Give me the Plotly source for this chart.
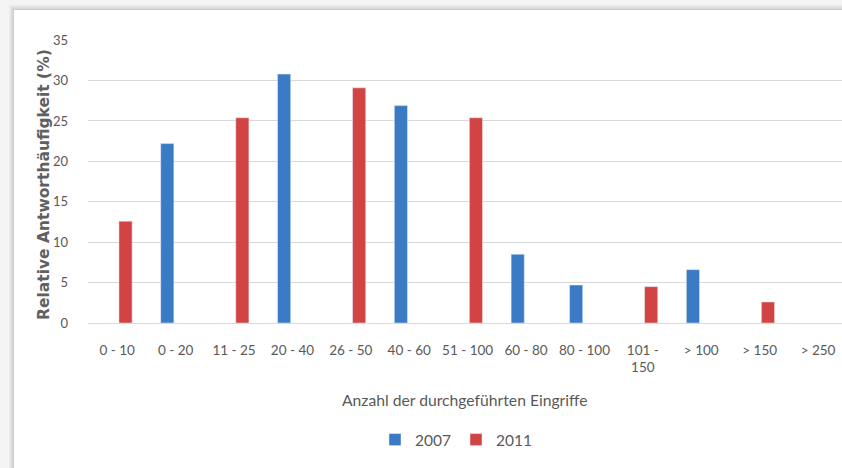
import plotly.graph_objects as go

categories = ["0 - 10", "0 - 20", "11 - 25", "20 - 40", "26 - 50", "40 - 60", "51 - 100",
              "60 - 80", "80 - 100", "101 -<br>150", "> 100", "> 150", "> 250"]
values_2007 = [None, 22.2, None, 30.8, None, 26.9, None, 8.5, 4.7, None, 6.6, None, None]
values_2011 = [12.6, None, 25.4, None, 29.1, None, 25.4, None, None, 4.5, None, 2.6, None]
y_ticks = [0, 5, 10, 15, 20, 25, 30, 35]

FONT = "Lato"
TXT = "#595959"

W, H = 842, 468
L, R, T, B = 88, 0, 40, 145
pw, ph = W - L - R, H - T - B

def px_x(p):
    return (p - L) / pw

def px_y(p):
    return (H - B - p) / ph

fig = go.Figure()
fig.add_trace(go.Bar(name="2007", x=categories, y=values_2007, marker_color="#3b7bc6"))
fig.add_trace(go.Bar(name="2011", x=categories, y=values_2011, marker_color="#d24444"))

shapes = []
# page background + card shadow
shades = ["#ececec", "#e6e6e6", "#dedede", "#d6d6d6", "#cfcfcf"]
for i, c in enumerate(shades):
    shapes.append(dict(type="rect", xref="paper", yref="paper", layer="below",
                       x0=px_x(9 + i), x1=1.2, y0=-3, y1=px_y(5 + i),
                       fillcolor=c, line_width=0))
shapes.append(dict(type="rect", xref="paper", yref="paper", layer="below",
                   x0=px_x(14), x1=1.2, y0=-3, y1=px_y(10),
                   fillcolor="white", line_width=0))

fig.update_layout(
    width=W, height=H,
    margin=dict(l=L, r=R, t=T, b=B, autoexpand=False),
    paper_bgcolor="#f4f4f4",
    plot_bgcolor="white",
    barmode="group",
    bargap=0.43,
    bargroupgap=0.21,
    font=dict(family=FONT, size=13, color=TXT),
    shapes=shapes,
    showlegend=True,
    legend=dict(orientation="h", x=0.5 - 9 / pw, xanchor="center", y=px_y(440), yanchor="middle",
                font=dict(size=15.5, color=TXT), bgcolor="rgba(0,0,0,0)",
                entrywidth=36, entrywidthmode="pixels"),
    xaxis=dict(range=[-0.5, 12.41], showgrid=False, showline=False, zeroline=False,
               ticks="", ticklabelstandoff=17, tickfont=dict(size=13.5, color=TXT),
               automargin=False),
    yaxis=dict(range=[0, 35.02], tickvals=y_ticks, showgrid=True, gridcolor="#d9d9d9",
               gridwidth=1, zeroline=True, zerolinecolor="#d9d9d9", zerolinewidth=1,
               showline=False, ticks="", ticklabelstandoff=19,
               tickfont=dict(size=13, color=TXT), automargin=False),
    annotations=[
        dict(text="Anzahl der durchgeführten Eingriffe", xref="paper", yref="paper",
             x=0.5, y=px_y(400), xanchor="center", yanchor="middle", showarrow=False,
             font=dict(size=15.7, color=TXT)),
        dict(text="<b>Relative Antworthäufigkeit (%)</b>", xref="paper", yref="paper",
             x=px_x(44), y=px_y(185), xanchor="center", yanchor="middle", showarrow=False,
             textangle=-90, font=dict(family="DejaVu Sans", size=15.5, color="#606060")),
    ],
)

fig.write_html("out.html", config={"displayModeBar": False},
               post_script="document.body.style.margin='0';")
